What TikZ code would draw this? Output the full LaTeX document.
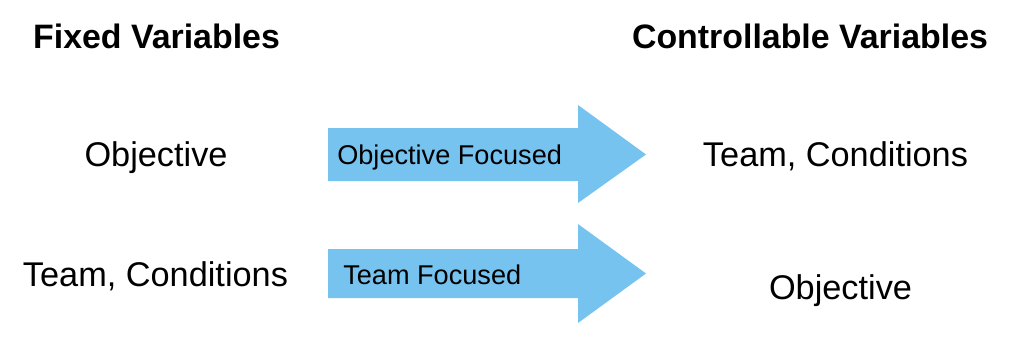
\documentclass[tikz,border=0pt]{standalone}
\usepackage{fontspec}
\setmainfont{Liberation Sans}
\usepackage{tikz}
\usetikzlibrary{positioning}
\usetikzlibrary{calc}

\definecolor{arrowblue}{RGB}{118,195,240}

\begin{document}
\begin{tikzpicture}[
    title/.style={anchor=base, inner sep=0pt, font=\fontsize{24.1}{27}\selectfont\bfseries},
    var/.style={anchor=base, inner sep=0pt, font=\fontsize{24.4}{27}\selectfont},
    tag/.style={anchor=base west, inner sep=0pt, font=\fontsize{19.3}{22}\selectfont}
]
    \useasboundingbox (0,0) rectangle (25.6,-8.6);

    % headings
    \node [title] (fixed) at (3.9125,-1.2) {Fixed Variables};
    \node [title] (ctrl) at (20.25,-1.2) {Controllable Variables};

    % arrows
    \fill [arrowblue] (8.2,-3.2) -- (14.45,-3.2) -- (14.45,-2.625) -- (16.15,-3.8625)
        -- (14.45,-5.075) -- (14.45,-4.525) -- (8.2,-4.525) -- cycle;
    \fill [arrowblue] (8.2,-6.225) -- (14.45,-6.225) -- (14.45,-5.6) -- (16.15,-6.8375)
        -- (14.45,-8.075) -- (14.45,-7.45) -- (8.2,-7.45) -- cycle;

    \node [tag] (f1) at (8.425,-4.1) {Objective Focused};
    \node [tag] (f2) at (8.575,-7.1) {Team Focused};

    % left column
    \node [var] (a1) at (3.9,-4.15) {Objective};
    \node [var] (a2) at (3.8875,-7.15) {Team, Conditions};

    % right column
    \node [var] (b1) at (20.8875,-4.15) {Team, Conditions};
    \node [var] (b2) at (21.0125,-7.475) {Objective};
\end{tikzpicture}
\end{document}
